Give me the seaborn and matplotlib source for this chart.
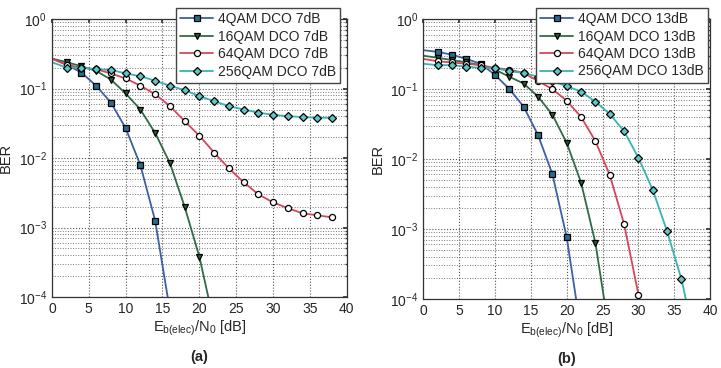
"""BER vs Eb(elec)/N0 para DCO-OFDM (7 dB y 13 dB)"""

import matplotlib
matplotlib.use('Agg')
import matplotlib.pyplot as plt
import seaborn as sns
import pandas as pd
import numpy as np

# ============================
# Datos
# ============================
ebn0 = [0, 2, 4, 6, 8, 10, 12, 14, 16, 18, 20, 22, 24, 26, 28, 30, 32, 34, 36, 38]

# (a) DCO 7dB
ber_4qam_7 = [0.27, 0.22, 0.17, 0.11, 0.063, 0.027, 0.0079, 0.00126, 6.4e-5]
ber_16qam_7 = [0.27, 0.24, 0.21, 0.18, 0.135, 0.085, 0.05, 0.023, 0.0085, 0.002,
               3.8e-4, 4.2e-5]
ber_64qam_7 = [0.27, 0.22, 0.2, 0.19, 0.165, 0.14, 0.11, 0.083, 0.056, 0.034,
               0.021, 0.012, 0.0071, 0.0045, 0.003, 0.0023, 0.0019, 0.0016,
               0.0015, 0.0014]
ber_256qam_7 = [0.24, 0.2, 0.2, 0.19, 0.185, 0.166, 0.15, 0.13, 0.11, 0.095,
                0.078, 0.066, 0.056, 0.05, 0.045, 0.042, 0.04, 0.039, 0.038,
                0.038]

# (b) DCO 13dB
ber_4qam_13 = [0.36, 0.34, 0.31, 0.27, 0.23, 0.16, 0.10, 0.056, 0.022, 0.0061,
               7.6e-4, 3.4e-5]
ber_16qam_13 = [0.30, 0.28, 0.26, 0.24, 0.22, 0.19, 0.15, 0.12, 0.078, 0.043,
                0.017, 0.0046, 6.3e-4, 3.0e-5]
ber_64qam_13 = [0.27, 0.25, 0.24, 0.23, 0.22, 0.2, 0.19, 0.17, 0.13, 0.10,
                0.068, 0.04, 0.018, 0.0059, 1.17e-3, 1.15e-4, 1.1e-5]
ber_256qam_13 = [0.23, 0.22, 0.22, 0.21, 0.2, 0.2, 0.18, 0.17, 0.15, 0.13,
                 0.11, 0.092, 0.066, 0.044, 0.025, 0.0104, 0.0036, 9.2e-4,
                 1.9e-4, 2.2e-5]

modulaciones = ['4QAM', '16QAM', '64QAM', '256QAM']

# Estilo de cada modulacion: color de linea, marcador, relleno
estilos = {
    '4QAM': dict(color='#3C5FA6', marker='s', markerfacecolor='#2B6C8C', ms=4.6),
    '16QAM': dict(color='#2E6B47', marker='v', markerfacecolor='#2C5A3A', ms=5.0),
    '64QAM': dict(color='#D8455B', marker='o', markerfacecolor='white', ms=4.4),
    '256QAM': dict(color='#36B4B0', marker='D', markerfacecolor='#5CCACA', ms=4.4),
}

sns.set_theme(style="white")
plt.rcParams['font.family'] = ['Liberation Sans', 'DejaVu Sans']
plt.rcParams['mathtext.default'] = 'regular'


def dibujar_panel(ax, curvas, sufijo, letra, ancla_x):
    for mod, ber in zip(modulaciones, curvas):
        df = pd.DataFrame({'ebn0': ebn0[:len(ber)], 'ber': ber})
        est = estilos[mod]
        sns.lineplot(
            data=df, x='ebn0', y='ber', ax=ax,
            color=est['color'], marker=est['marker'],
            markerfacecolor=est['markerfacecolor'], markeredgecolor='black',
            markeredgewidth=0.9, markersize=est['ms'],
            linewidth=1.3, markevery=slice(1, None),
            label=f'{mod} DCO {sufijo}'
        )

    ax.set_yscale('log')
    ax.set_xlim(0, 40)
    ax.set_ylim(1e-4, 1)
    ax.set_xticks(np.arange(0, 41, 5))
    ax.set_yticks([1e-4, 1e-3, 1e-2, 1e-1, 1])
    ax.set_yticklabels([r'$10^{-4}$', r'$10^{-3}$', r'$10^{-2}$',
                        r'$10^{-1}$', r'$10^{0}$'])
    ax.yaxis.set_minor_locator(matplotlib.ticker.LogLocator(base=10, subs=np.arange(2, 10)))
    ax.yaxis.set_minor_formatter(matplotlib.ticker.NullFormatter())

    ax.grid(True, which='major', linestyle=':', color='#555555', linewidth=0.8)
    ax.grid(True, which='minor', axis='y', linestyle=':', color='#777777', linewidth=0.7)
    ax.tick_params(which='both', direction='in', labelsize=10, length=3,
                   top=True, right=True, color='#333333')
    ax.tick_params(which='minor', length=1.5)
    for s in ax.spines.values():
        s.set_color('#333333')
        s.set_linewidth(0.9)

    ax.set_ylabel('BER', fontsize=10.5)
    ax.set_xlabel(r'E$_{b(elec)}$/N$_0$ [dB]', fontsize=10.5, labelpad=2)
    ax.text(0.5, -0.215, letra, transform=ax.transAxes, ha='center',
            va='center', fontsize=10.5, fontweight='bold')

    ax.legend(loc='upper right', bbox_to_anchor=(ancla_x, 1.065), fontsize=10,
              frameon=True, fancybox=False, edgecolor='#444444',
              handlelength=2.4, borderpad=0.3, labelspacing=0.25,
              handletextpad=0.3, framealpha=1)


fig = plt.figure(figsize=(7.21, 3.68), dpi=100)
ax_a = fig.add_axes([0.072, 0.193, 0.409, 0.755])
ax_b = fig.add_axes([0.587, 0.188, 0.398, 0.760])

dibujar_panel(ax_a, [ber_4qam_7, ber_16qam_7, ber_64qam_7, ber_256qam_7],
              '7dB', '(a)', 1.0)
dibujar_panel(ax_b, [ber_4qam_13, ber_16qam_13, ber_64qam_13, ber_256qam_13],
              '13dB', '(b)', 1.015)

plt.savefig('out.png', dpi=100)
